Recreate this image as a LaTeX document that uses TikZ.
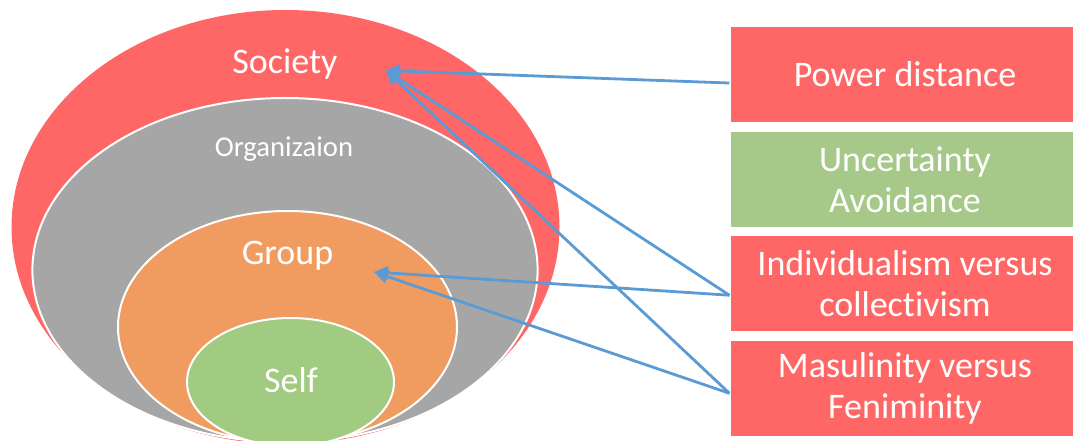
\documentclass[tikz,border=0pt]{standalone}
\usepackage{fontspec}
\setmainfont[Ligatures=NoCommon]{Carlito}
\usetikzlibrary{shapes.geometric,arrows.meta,calc}
\definecolor{socred}{HTML}{FF6666}
\definecolor{orggray}{HTML}{A6A6A6}
\definecolor{grporange}{HTML}{F09C60}
\definecolor{selfgreen}{HTML}{A1CB80}
\definecolor{boxgreen}{HTML}{A6C98A}
\definecolor{arrblue}{HTML}{5B9BD5}
\begin{document}
\begin{tikzpicture}[x=0.75pt,y=-0.75pt,
  ring/.style={ellipse, inner sep=0pt, draw=white, line width=1.5pt},
  lbl/.style={text=white, anchor=base, inner sep=0pt, font=\fontsize{27}{32}\selectfont},
  dimbox/.style={rectangle, draw=white, line width=0.8pt, minimum width=262.5pt, minimum height=72.75pt,
    text=white, align=center, inner sep=0pt, font=\fontsize{27}{30.75}\selectfont},
  arr/.style={draw=arrblue, line width=2.1pt, -{Triangle[length=10.5pt,width=10pt]}}]
\useasboundingbox (0,0) rectangle (1073,441);
\clip (0,0) rectangle (1073,441);
% nested ellipses
\node[ring, draw=none, fill=socred, minimum width=411pt, minimum height=325.5pt] (society) at (285.5,227) {};
\node[ring, fill=orggray, minimum width=378.9pt, minimum height=258pt] (organization) at (285,270) {};
\node[ring, fill=grporange, minimum width=254.25pt, minimum height=174pt] (group) at (287.5,327) {};
\node[ring, fill=selfgreen, minimum width=155.25pt, minimum height=96pt] (self) at (290.5,382) {};
% labels
\node[lbl] (soctxt) at (285,74) {Society};
\node[lbl, font=\fontsize{21.5}{26}\selectfont] (orgtxt) at (284,157) {Organizaion};
\node[lbl] (grptxt) at (287.5,265) {Group};
\node[lbl] (selftxt) at (291,392) {Self};
% arrow targets
\coordinate (soctip) at (386,70.5);
\coordinate (grptip) at (374,272);
% boxes
\node[dimbox, fill=socred] (pd) at (905,74.5) {Power distance};
\node[dimbox, fill=boxgreen] (ua) at (905,179.5) {Uncertainty\\Avoidance};
\node[dimbox, fill=socred] (ic) at (905,283.5) {Individualism versus\\collectivism};
\node[dimbox, fill=socred] (mf) at (905,388.5) {Masulinity versus\\Feniminity};
% connectors
\draw[arr] ([yshift=-6.4pt]pd.west) -- (soctip);
\draw[arr] ([yshift=-8.8pt]ic.west) -- (soctip);
\draw[arr] ([yshift=-8.8pt]ic.west) -- (grptip);
\draw[arr] ([yshift=-3.6pt]mf.west) -- (soctip);
\draw[arr] ([yshift=-3.6pt]mf.west) -- (grptip);
\end{tikzpicture}
\end{document}
